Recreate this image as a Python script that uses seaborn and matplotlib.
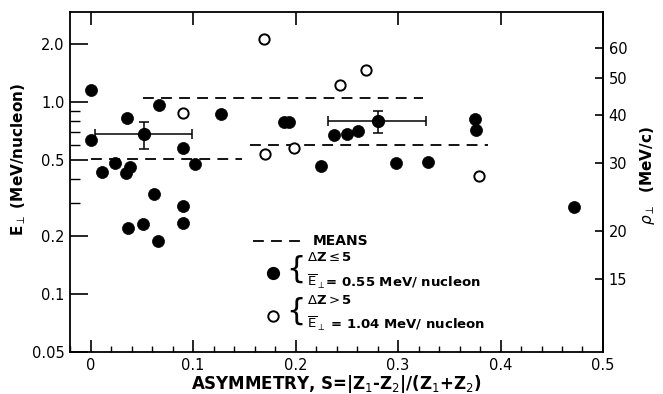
import matplotlib
matplotlib.use('Agg')
import matplotlib.pyplot as plt
import matplotlib.ticker as mticker
import numpy as np
import pandas as pd
import seaborn as sns

sns.set_style('ticks')
plt.rcParams['font.family'] = ['DejaVu Sans']
plt.rcParams['mathtext.fontset'] = 'dejavusans'
for key in ['text.color', 'axes.labelcolor', 'xtick.color', 'ytick.color', 'axes.edgecolor']:
    plt.rcParams[key] = 'black'

# dZ <= 5 (filled)
small_s = [0.000, 0.000, 0.011, 0.024, 0.035, 0.039, 0.036, 0.067, 0.062, 0.037,
           0.051, 0.066, 0.090, 0.090, 0.090, 0.102, 0.127, 0.189, 0.194, 0.225,
           0.238, 0.250, 0.261, 0.298, 0.329, 0.375, 0.376, 0.472]
small_e = [1.155, 0.634, 0.434, 0.480, 0.430, 0.458, 0.825, 0.968, 0.331, 0.220,
           0.232, 0.190, 0.576, 0.287, 0.234, 0.474, 0.873, 0.793, 0.793, 0.463,
           0.676, 0.681, 0.709, 0.483, 0.487, 0.813, 0.715, 0.285]

# dZ > 5 (open)
large_s = [0.090, 0.170, 0.169, 0.243, 0.269, 0.199, 0.379]
large_e = [0.880, 0.540, 2.145, 1.236, 1.468, 0.578, 0.413]

# binned means with error bars
avg_s = [0.052, 0.280]
avg_e = [0.681, 0.796]
avg_s_lo = [0.004, 0.2315]
avg_s_hi = [0.0995, 0.327]
avg_e_lo = [0.568, 0.689]
avg_e_hi = [0.793, 0.905]

# dashed mean segments
mean_s0 = [0.000, 0.051, 0.156]
mean_s1 = [0.148, 0.324, 0.388]
mean_e = [0.509, 1.049, 0.602]

df_small = pd.DataFrame({'S': small_s, 'E': small_e})
df_large = pd.DataFrame({'S': large_s, 'E': large_e})

fig = plt.figure(figsize=(6.63, 3.94), dpi=100)
ax = fig.add_axes([0.1056, 0.1066, 0.8039, 0.863])

# mean lines
for s0, s1, e in zip(mean_s0, mean_s1, mean_e):
    ax.plot([s0, s1], [e, e], color='black', lw=1.3, dashes=(6, 4))

sns.scatterplot(data=df_small, x='S', y='E', ax=ax, color='black', s=75,
                edgecolor='black', linewidth=0.5, zorder=3)
sns.scatterplot(data=df_large, x='S', y='E', ax=ax, facecolor='white', s=55,
                edgecolor='black', linewidth=1.4, zorder=3)

xerr = [np.array(avg_s) - np.array(avg_s_lo), np.array(avg_s_hi) - np.array(avg_s)]
yerr = [np.array(avg_e) - np.array(avg_e_lo), np.array(avg_e_hi) - np.array(avg_e)]
ax.errorbar(avg_s, avg_e, xerr=xerr, yerr=yerr, fmt='o', color='black', ms=8.5,
            elinewidth=1.1, capsize=3.5, capthick=1.1, zorder=4)

ax.set_yscale('log')
ax.set_xlim(-0.02, 0.5)
ax.set_ylim(0.05, 2.95)

ax.set_xticks([0, 0.1, 0.2, 0.3, 0.4, 0.5])
ax.set_xticklabels(['0', '0.1', '0.2', '0.3', '0.4', '0.5'])
ax.xaxis.set_minor_locator(mticker.MultipleLocator(0.02))
ax.set_yticks([0.05, 0.1, 0.2, 0.5, 1.0, 2.0])
ax.set_yticklabels(['0.05', '0.1', '0.2', '0.5', '1.0', '2.0'])
ax.yaxis.set_minor_locator(mticker.FixedLocator([0.3, 0.4, 0.6, 0.7, 0.8, 0.9]))
ax.yaxis.set_minor_formatter(mticker.NullFormatter())

ax.tick_params(axis='x', which='major', direction='in', length=9, width=1.2,
               top=True, labelsize=10.5, pad=4)
ax.tick_params(axis='x', which='minor', direction='in', length=4.5, width=1,
               top=False)
ax.tick_params(axis='y', which='major', direction='in', length=13, width=1.2,
               labelsize=10.5, pad=4)
ax.tick_params(axis='y', which='minor', direction='in', length=7, width=1)
for sp in ax.spines.values():
    sp.set_linewidth(1.3)

ax.set_xlabel(r'ASYMMETRY, S=|Z$_1$-Z$_2$|/(Z$_1$+Z$_2$)', fontsize=12,
              fontweight='bold', labelpad=0)
ax.set_ylabel(r'E$_\perp$ (MeV/nucleon)', fontsize=11, fontweight='bold')
ax.yaxis.set_label_coords(-0.078, 0.565)

# right axis: transverse momentum per nucleon
sec = ax.secondary_yaxis('right', functions=(lambda e: 43.3 * np.sqrt(np.clip(e, 1e-9, None)),
                                              lambda p: (p / 43.3) ** 2))
sec.set_yticks([15, 20, 30, 40, 50, 60])
sec.set_yticklabels(['15', '20', '30', '40', '50', '60'])
sec.yaxis.set_minor_locator(mticker.NullLocator())
sec.tick_params(direction='in', length=6, width=1.2, labelsize=10.5, pad=4)
sec.spines['right'].set_linewidth(1.3)
fig.text(0.976, 0.555, r'$\rho_\perp$  (MeV/c)', fontsize=11, fontweight='bold',
         rotation=90, ha='center', va='center')

# legend drawn by hand
tr = ax.transAxes
ax.plot([0.343, 0.445], [0.326, 0.326], transform=tr, color='black', lw=1.3,
        dashes=(6, 4))
ax.text(0.456, 0.326, 'MEANS', transform=tr, fontsize=10, fontweight='bold',
        va='center')
ax.plot([0.381], [0.231], transform=tr, marker='o', color='black', ms=8.5)
ax.text(0.405, 0.245, '{', transform=tr, fontsize=22, va='center')
ax.text(0.445, 0.277, r'$\Delta$Z$\leq$5', transform=tr, fontsize=9.5,
        fontweight='bold', va='center')
ax.text(0.445, 0.207, r'$\overline{\mathrm{E}}_\perp$= 0.55 MeV/ nucleon', transform=tr,
        fontsize=9.5, fontweight='bold', va='center')
ax.plot([0.381], [0.106], transform=tr, marker='o', mfc='white', mec='black',
        mew=1.4, ms=7.5)
ax.text(0.405, 0.120, '{', transform=tr, fontsize=22, va='center')
ax.text(0.445, 0.150, r'$\Delta$Z$>$5', transform=tr, fontsize=9.5,
        fontweight='bold', va='center')
ax.text(0.445, 0.082, r'$\overline{\mathrm{E}}_\perp$ = 1.04 MeV/ nucleon', transform=tr,
        fontsize=9.5, fontweight='bold', va='center')

fig.savefig('out.png', dpi=100)
